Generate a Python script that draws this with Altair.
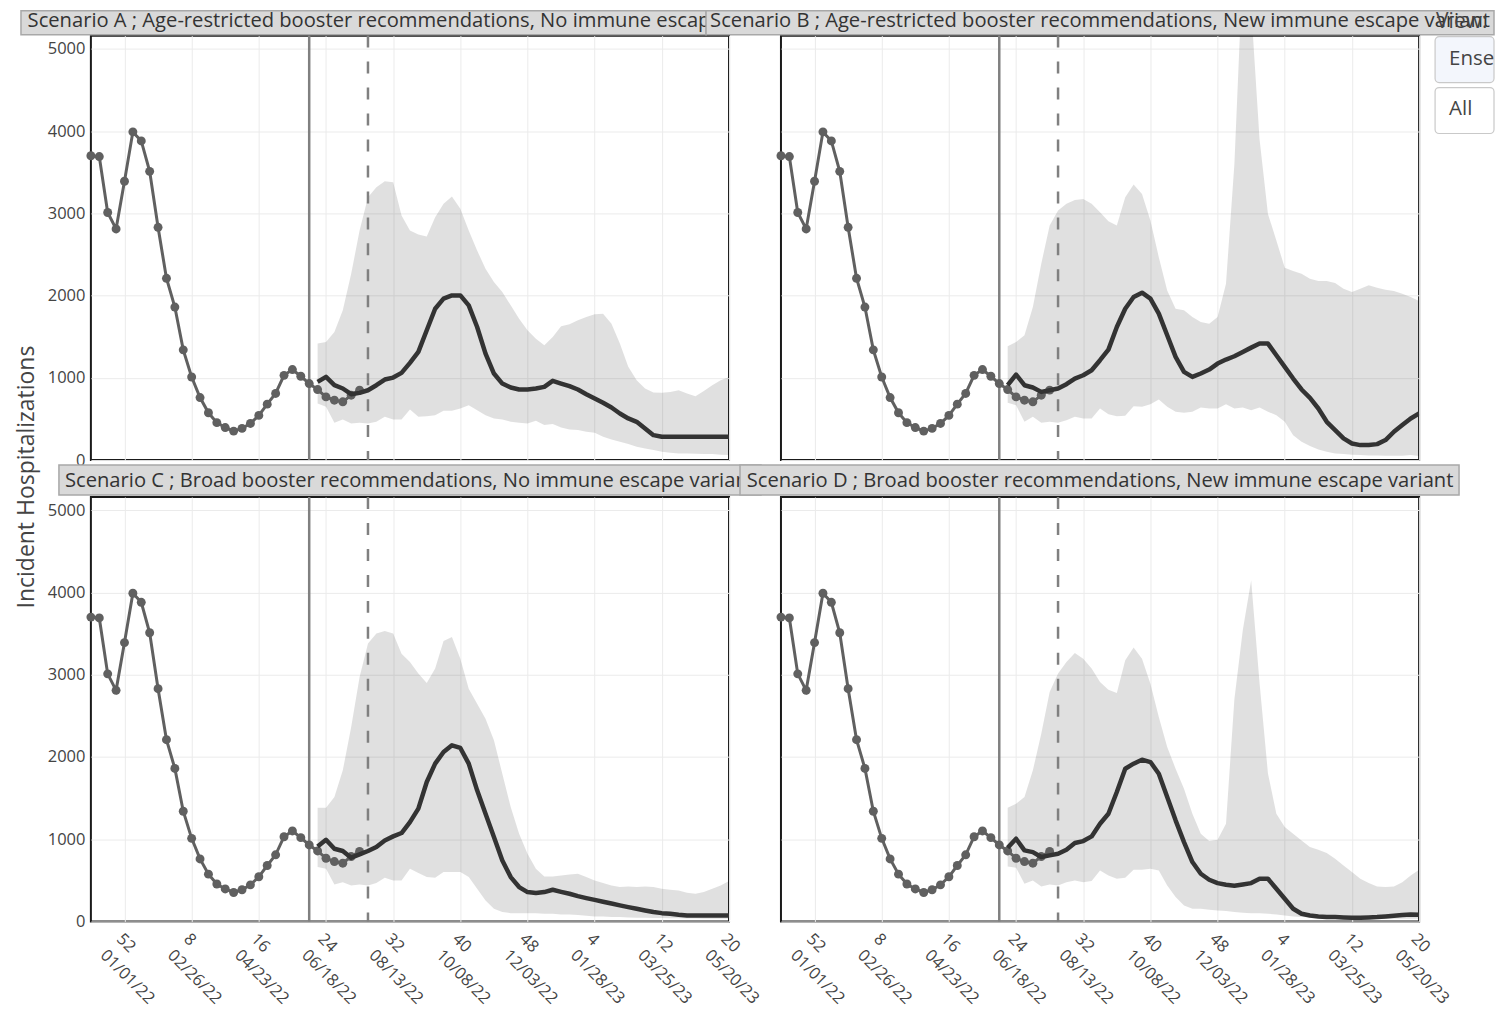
import json
import altair as alt
import pandas as pd

# ---------------- data ----------------
OBS_DATES = pd.date_range("2021-12-04", periods=33, freq="7D").strftime("%Y-%m-%d").tolist()
OBS = [3700, 3690, 3010, 2810, 3390, 3990, 3880, 3510, 2830, 2210, 1860, 1340, 1010,
       760, 575, 455, 395, 352, 385, 445, 543, 680, 810, 1030, 1100, 1019, 930, 857,
       768, 728, 708, 789, 850]

PROJ_DATES = pd.date_range("2022-06-11", periods=50, freq="7D").strftime("%Y-%m-%d").tolist()

A_MED = [951, 1011, 910, 870, 801, 817, 849, 910, 979, 1003,
         1060, 1181, 1315, 1578, 1840, 1962, 2002, 2002, 1881, 1618,
         1294, 1052, 930, 882, 858, 858, 870, 890, 963, 930,
         898, 858, 801, 748, 696, 639, 566, 506, 465, 384,
         303, 283, 283, 283, 283, 283, 283, 283, 283, 283]
A_UP = [1416, 1436, 1557, 1820, 2265, 2791, 3196, 3317, 3390, 3378,
        2973, 2791, 2743, 2718, 2953, 3115, 3204, 3054, 2791, 2548,
        2326, 2164, 2043, 1881, 1719, 1578, 1476, 1395, 1497, 1626,
        1650, 1699, 1739, 1772, 1780, 1658, 1416, 1133, 971, 870,
        821, 817, 829, 849, 809, 777, 841, 910, 971, 1011]
A_LO = [688, 647, 453, 493, 445, 453, 445, 465, 526, 493,
        493, 615, 526, 534, 546, 599, 599, 627, 667, 607,
        546, 506, 493, 465, 453, 445, 477, 425, 437, 396,
        372, 364, 344, 332, 283, 251, 222, 194, 162, 142,
        121, 101, 89, 81, 81, 77, 73, 73, 65, 61]

B_MED = [910, 1040, 910, 882, 829, 849, 870, 922, 991, 1031,
         1092, 1214, 1343, 1618, 1840, 1982, 2035, 1962, 1780, 1517,
         1254, 1072, 1011, 1052, 1100, 1173, 1222, 1262, 1315, 1367,
         1416, 1416, 1274, 1133, 991, 858, 756, 627, 465, 364,
         263, 202, 182, 182, 194, 243, 344, 425, 506, 566]
B_UP = [1383, 1436, 1517, 1861, 2387, 2852, 3034, 3115, 3163, 3175,
        3115, 3014, 2904, 2852, 3196, 3349, 3236, 2912, 2467, 2063,
        1840, 1820, 1739, 1679, 1658, 1739, 2144, 3600, 6000, 5500,
        3900, 2993, 2670, 2338, 2298, 2265, 2205, 2176, 2176, 2152,
        2083, 2043, 2083, 2124, 2095, 2071, 2055, 2023, 1982, 1934]
B_LO = [696, 667, 465, 526, 453, 465, 453, 485, 526, 506,
        506, 627, 558, 534, 538, 655, 647, 680, 736, 647,
        587, 574, 587, 639, 627, 627, 680, 627, 639, 607,
        639, 587, 546, 465, 303, 222, 170, 129, 101, 81,
        73, 65, 61, 57, 57, 53, 53, 53, 61, 49]

C_MED = [912, 993, 884, 856, 775, 815, 856, 904, 985, 1034,
         1075, 1208, 1371, 1695, 1918, 2060, 2141, 2109, 1918, 1594,
         1310, 1026, 742, 539, 418, 357, 345, 357, 385, 360,
         337, 308, 284, 262, 240, 218, 195, 174, 154, 134,
         114, 101, 93, 81, 73, 73, 73, 73, 73, 73]
C_UP = [1383, 1383, 1513, 1837, 2364, 2972, 3378, 3500, 3532, 3500,
        3256, 3155, 3013, 2899, 3074, 3410, 3459, 3195, 2830, 2648,
        2465, 2202, 1796, 1391, 1066, 823, 641, 547, 547, 560,
        572, 580, 539, 499, 466, 438, 418, 426, 418, 426,
        418, 397, 385, 377, 349, 337, 357, 397, 438, 491]
C_LO = [661, 641, 450, 478, 438, 450, 438, 466, 531, 499,
        499, 641, 588, 539, 531, 600, 600, 600, 539, 397,
        255, 154, 114, 101, 101, 101, 101, 93, 93, 85,
        85, 77, 69, 61, 61, 53, 53, 49, 45, 45,
        41, 41, 40, 38, 36, 36, 34, 34, 32, 32]

D_MED = [896, 1006, 864, 843, 783, 803, 823, 872, 953, 977,
         1034, 1188, 1310, 1573, 1857, 1918, 1967, 1938, 1796, 1513,
         1229, 965, 722, 580, 507, 466, 446, 434, 450, 466,
         519, 519, 397, 276, 154, 93, 73, 61, 53, 53,
         49, 45, 45, 49, 53, 61, 69, 77, 85, 80]
D_UP = [1383, 1431, 1513, 1837, 2283, 2790, 3013, 3155, 3264, 3195,
        3074, 2911, 2818, 2778, 3175, 3329, 3195, 2891, 2486, 2121,
        1857, 1614, 1310, 1066, 977, 993, 1188, 2700, 3540, 4148,
        2900, 1800, 1310, 1148, 1066, 985, 904, 872, 831, 762,
        681, 600, 519, 466, 426, 418, 426, 478, 560, 629]
D_LO = [669, 653, 458, 499, 426, 450, 438, 478, 499, 478,
        491, 620, 560, 519, 531, 629, 629, 641, 620, 438,
        296, 195, 154, 154, 142, 134, 126, 114, 105, 101,
        101, 93, 85, 73, 61, 53, 49, 45, 45, 41,
        41, 37, 37, 33, 33, 33, 33, 33, 33, 33]

SCENARIO_TITLES = {
    "A": "Scenario A ; Age-restricted booster recommendations, No immune escape variant",
    "B": "Scenario B ; Age-restricted booster recommendations, New immune escape variant",
    "C": "Scenario C ; Broad booster recommendations, No immune escape variant",
    "D": "Scenario D ; Broad booster recommendations, New immune escape variant",
}
MEDIANS = {"A": A_MED, "B": B_MED, "C": C_MED, "D": D_MED}
UPPERS = {"A": A_UP, "B": B_UP, "C": C_UP, "D": D_UP}
LOWERS = {"A": A_LO, "B": B_LO, "C": C_LO, "D": D_LO}

SOLID_LINE_DATE = ["2022-06-04"]
DASHED_LINE_DATE = ["2022-07-23"]

TICK_DATES = ["2022-01-01", "2022-02-26", "2022-04-23", "2022-06-18", "2022-08-13",
              "2022-10-08", "2022-12-03", "2023-01-28", "2023-03-25", "2023-05-20"]
TICK_WEEKS = ["52", "8", "16", "24", "32", "40", "48", "4", "12", "20"]
TICK_DATE_LABELS = ["01/01/22", "02/26/22", "04/23/22", "06/18/22", "08/13/22",
                    "10/08/22", "12/03/22", "01/28/23", "03/25/23", "05/20/23"]
Y_TICKS = [0, 1000, 2000, 3000, 4000, 5000]
Y_TITLE = "Incident Hospitalizations"
VIEW_LABEL = "View:"
BUTTONS = ["Ensemble", "All"]

# ---------------- layout / style ----------------
W, H = 639, 425
FONT = "Open Sans"
STRIP_X = {"A": (-70, 616), "B": (-75, 714), "C": (-32, 671), "D": (-41, 679)}
STRIP_Y = {"A": (-25, -1), "B": (-25, -1), "C": (-32, -2), "D": (-32, -2)}
STRIP_TEXT_Y = {"A": -15, "B": -15, "C": -16.5, "D": -16.5}


def dt(s):
    y, m, d = (int(v) for v in s.split("-"))
    return alt.DateTime(year=y, month=m, date=d, utc=True)


dates_js = json.dumps(TICK_DATES)
idx = f"indexof({dates_js}, utcFormat(datum.value, '%Y-%m-%d'))"
label_expr = f"[{json.dumps(TICK_WEEKS)}[{idx}], {json.dumps(TICK_DATE_LABELS)}[{idx}]]"

x_scale = alt.Scale(type="utc", domain=[dt(OBS_DATES[0]), dt(PROJ_DATES[-1])])
y_scale = alt.Scale(domain=[0, 5160], nice=False)


def x_axis(show):
    return alt.Axis(values=[dt(s) for s in TICK_DATES], labels=show, labelExpr=label_expr,
                    labelAngle=45, labelAlign="left", labelBaseline="top",
                    labelPadding=9, labelLineHeight=23, labelOverlap=False,
                    labelFlush=False, grid=True, domain=False, ticks=False, title=None)


def y_axis(show):
    return alt.Axis(values=Y_TICKS, labels=show, format="d", grid=True, domain=False,
                    ticks=False, labelPadding=6, labelFlush=False, labelOverlap=False,
                    title=None)


def panel(key, show_x, show_y):
    proj = pd.DataFrame({"date": PROJ_DATES, "median": MEDIANS[key],
                         "lower": LOWERS[key], "upper": UPPERS[key]})
    obs = pd.DataFrame({"date": OBS_DATES, "value": OBS})
    X = alt.X("date:T", scale=x_scale, axis=x_axis(show_x), title=None)

    band = alt.Chart(proj).mark_area(color="#000000", opacity=0.12, clip=True).encode(
        x=X,
        y=alt.Y("lower:Q", scale=y_scale, axis=y_axis(show_y), title=None),
        y2="upper:Q",
    )
    solid = alt.Chart(pd.DataFrame({"date": SOLID_LINE_DATE})).mark_rule(
        color="#808080", strokeWidth=2.5).encode(x=X)
    dashed = alt.Chart(pd.DataFrame({"date": DASHED_LINE_DATE})).mark_rule(
        color="#808080", strokeWidth=2.5, strokeDash=[12, 14]).encode(x=X)
    obs_line = alt.Chart(obs).mark_line(color="#606060", strokeWidth=3).encode(
        x=X, y=alt.Y("value:Q", scale=y_scale, title=None))
    obs_pts = alt.Chart(obs).mark_circle(color="#606060", size=80, opacity=1).encode(
        x=X, y=alt.Y("value:Q", scale=y_scale, title=None))
    med = alt.Chart(proj).mark_line(color="#333333", strokeWidth=4.5, strokeJoin="round",
                                    clip=True).encode(
        x=X, y=alt.Y("median:Q", scale=y_scale, title=None))

    tdf = pd.DataFrame({"t": [SCENARIO_TITLES[key]]})
    x0, x1 = STRIP_X[key]
    y0, y1 = STRIP_Y[key]
    strip = alt.Chart(tdf).mark_rect(fill="#d9d9d9", stroke="#a8a8a8", strokeWidth=1.5).encode(
        x=alt.value(x0), x2=alt.value(x1), y=alt.value(y0), y2=alt.value(y1))
    strip_text = alt.Chart(tdf).mark_text(font=FONT, fontSize=20.2, color="#333333",
                                          align="center", baseline="middle").encode(
        text="t:N", x=alt.value(W / 2), y=alt.value(STRIP_TEXT_Y[key]))

    layers = [band, solid, dashed, obs_line, obs_pts, med, strip, strip_text]

    if key == "A":
        ytitle = alt.Chart(pd.DataFrame({"t": [Y_TITLE]})).mark_text(
            font=FONT, fontSize=23, color="#444444", angle=270,
            align="center", baseline="middle").encode(
            text="t:N", x=alt.value(-64), y=alt.value(442))
        layers.append(ytitle)
    if key == "B":
        view_txt = alt.Chart(pd.DataFrame({"t": [VIEW_LABEL]})).mark_text(
            font=FONT, fontSize=21, color="#444444", align="left", baseline="middle").encode(
            text="t:N", x=alt.value(656), y=alt.value(-14))
        b1 = alt.Chart(pd.DataFrame({"t": [BUTTONS[0]]}))
        b2 = alt.Chart(pd.DataFrame({"t": [BUTTONS[1]]}))
        btn1 = b1.mark_rect(fill="#f3f6fc", stroke="#c9c9c9", strokeWidth=1.2,
                            cornerRadius=4).encode(
            x=alt.value(655), x2=alt.value(714), y=alt.value(1), y2=alt.value(47))
        btn1_t = b1.mark_text(font=FONT, fontSize=20.5, color="#444444", align="left",
                              baseline="middle", limit=45.5, ellipsis="\u200b").encode(
            text="t:N", x=alt.value(669), y=alt.value(23))
        btn2 = b2.mark_rect(fill="#ffffff", stroke="#c9c9c9", strokeWidth=1.2,
                            cornerRadius=4).encode(
            x=alt.value(655), x2=alt.value(714), y=alt.value(52), y2=alt.value(98))
        btn2_t = b2.mark_text(font=FONT, fontSize=20.5, color="#444444", align="left",
                              baseline="middle").encode(
            text="t:N", x=alt.value(669), y=alt.value(73))
        layers += [view_txt, btn1, btn1_t, btn2, btn2_t]

    return alt.layer(*layers).properties(width=W, height=H)


chart = alt.concat(
    panel("A", False, True), panel("B", False, False),
    panel("C", True, True), panel("D", True, False),
    columns=2, spacing={"row": 37, "column": 52}, bounds="flush",
).properties(
    padding={"left": 7, "top": 0, "right": 0, "bottom": 0},
    background="#ffffff",
).configure_view(
    stroke="#1a1a1a", strokeWidth=2,
).configure_axis(
    labelFont=FONT, labelFontSize=16.5, labelColor="#444444",
    gridColor="#ebebeb", gridWidth=1,
)

chart.save("out.html", embed_options={"renderer": "svg", "actions": False})
